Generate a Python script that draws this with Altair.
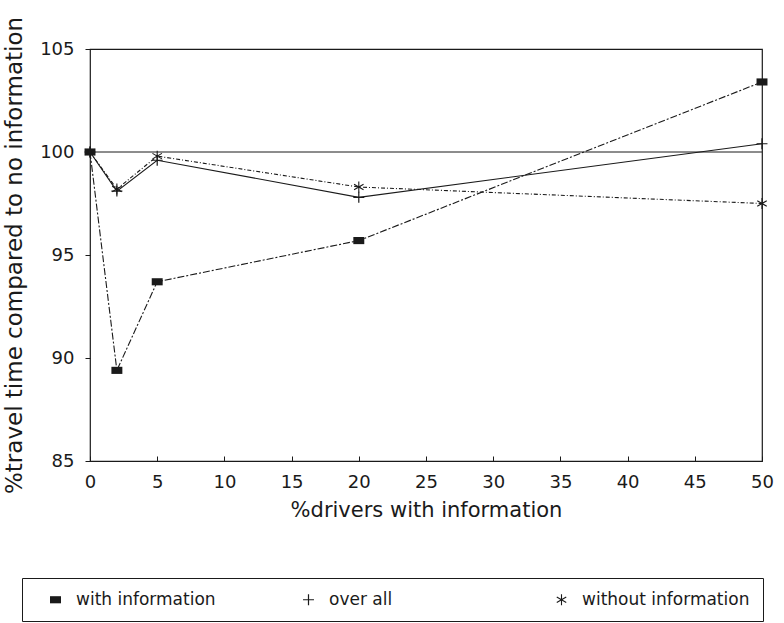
import altair as alt
import pandas as pd

# Share of drivers receiving route information (%)
pct_drivers = [0, 2, 5, 20, 50]

# Travel time relative to the no-information case (%)
with_information = [100, 89.4, 93.7, 95.7, 103.4]
over_all = [100, 98.1, 99.6, 97.8, 100.4]
without_information = [100, 98.2, 99.8, 98.3, 97.5]

series_names = ["with information", "over all", "without information"]
reference_level = [100]
x_tick_values = [0, 5, 10, 15, 20, 25, 30, 35, 40, 45, 50]
y_tick_values = [85, 90, 95, 100, 105]

rows = []
for name, values in zip(series_names, [with_information, over_all, without_information]):
    for pct, val in zip(pct_drivers, values):
        rows.append({"pct": pct, "value": val, "series": name})
df = pd.DataFrame(rows)

FONT = "DejaVu Sans"
INK = "#1a1a1a"

x_scale = alt.Scale(domain=[0, 50], nice=False, zero=False)
y_scale = alt.Scale(domain=[85, 105], nice=False, zero=False)

# filled marker glyphs: block, thin plus, thin six-armed asterisk
marker_paths = [
    "M-1,-0.65H1V0.65H-1Z",
    "M-1,-0.11H-0.11V-1H0.11V-0.11H1V0.11H0.11V1H-0.11V0.11H-1Z",
    "M-0.1,-1H0.1V1H-0.1Z"
    "M0.816,0.587L-0.916,-0.413L-0.816,-0.587L0.916,0.413Z"
    "M0.916,-0.413L-0.816,0.587L-0.916,0.413L0.816,-0.587Z",
]
# dash pattern of each series' connecting line
dash_patterns = {
    "with information": [7, 2, 2, 2],
    "over all": [],
    "without information": [4, 2, 1, 2],
}

base = alt.Chart(df)

x_main = alt.X(
    "pct:Q",
    scale=x_scale,
    axis=alt.Axis(
        values=x_tick_values,
        title="%drivers with information",
        # axis raised into the frame so its ticks point inward from the bottom edge
        offset=-5,
        tickSize=5,
        domain=False,
        grid=False,
        labelFlush=False,
        labelPadding=12,
        titlePadding=8,
        labelFontSize=18,
        titleFontSize=21,
    ),
)
y_main = alt.Y(
    "value:Q",
    scale=y_scale,
    axis=alt.Axis(
        values=y_tick_values,
        title="%travel time compared to no information",
        grid=False,
        domain=False,
        tickSize=5,
        labelFlush=False,
        labelPadding=11,
        titlePadding=13,
        labelFontSize=18,
        titleFontSize=23,
    ),
)

line_layers = []
for i, name in enumerate(series_names):
    mark_kwargs = {"color": INK, "strokeWidth": 1.1}
    if dash_patterns[name]:
        mark_kwargs["strokeDash"] = dash_patterns[name]
    layer = (
        base.transform_filter(alt.datum.series == name)
        .mark_line(**mark_kwargs)
        .encode(x=x_main if i == 0 else alt.X("pct:Q", scale=x_scale),
                y=y_main if i == 0 else alt.Y("value:Q", scale=y_scale))
    )
    line_layers.append(layer)

points = base.mark_point(
    filled=True, fill=INK, strokeWidth=0, opacity=1, size=120
).encode(
    x=alt.X("pct:Q", scale=x_scale),
    y=alt.Y("value:Q", scale=y_scale),
    shape=alt.Shape(
        "series:N",
        scale=alt.Scale(domain=series_names, range=marker_paths),
        legend=alt.Legend(
            title=None,
            orient="none",
            legendX=-68,
            legendY=529,
            direction="horizontal",
            columns=3,
            columnPadding=44,
            gridAlign="all",
            labelFont=FONT,
            labelFontSize=17,
            labelColor=INK,
            labelLimit=400,
            symbolSize=120,
            symbolFillColor=INK,
            symbolStrokeWidth=0,
            symbolOffset=12,
            labelOffset=12,
            padding=13,
            strokeColor=INK,
        ),
    ),
)

ref_line = (
    alt.Chart(pd.DataFrame({"value": reference_level}))
    .mark_rule(color=INK, strokeWidth=1)
    .encode(y=alt.Y("value:Q", scale=y_scale))
)

chart = (
    alt.layer(ref_line, *line_layers, points)
    .properties(
        width=672,
        height=412,
        padding={"left": 90, "top": 49, "right": 22, "bottom": 162},
        autosize=alt.AutoSizeParams(type="none"),
        background="white",
    )
    .configure_view(stroke=INK, strokeWidth=1.2)
    .configure_axis(
        labelFont=FONT,
        titleFont=FONT,
        labelColor=INK,
        titleColor=INK,
        tickColor=INK,
        titleFontWeight="normal",
    )
)

chart.save("out.html", embed_options={"renderer": "svg", "actions": False})
